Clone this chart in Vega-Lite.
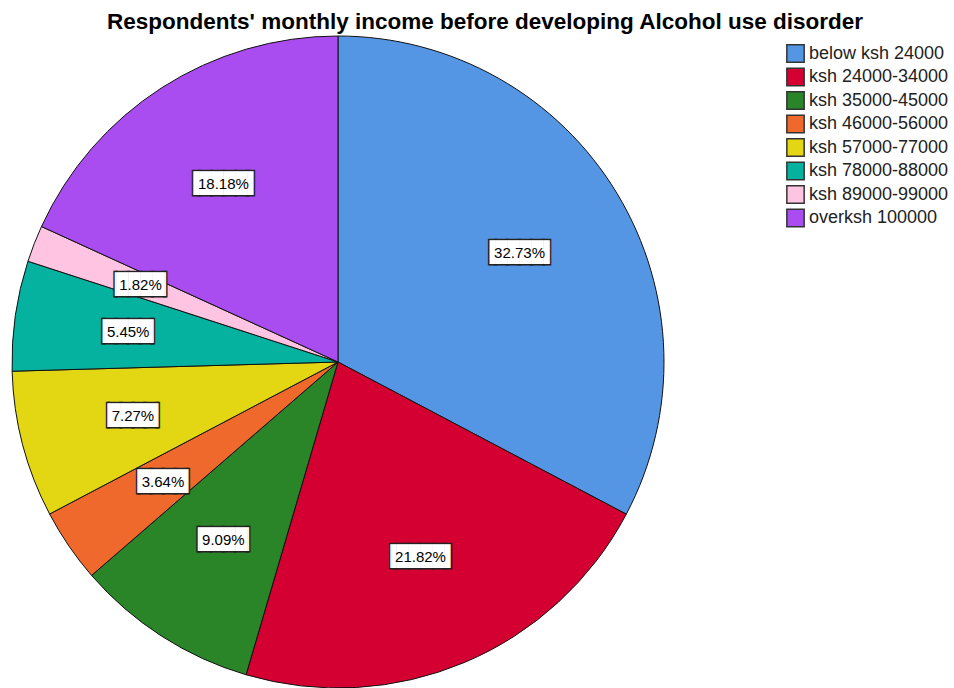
{
  "$schema": "https://vega.github.io/schema/vega-lite/v6.json",
  "width": 676,
  "height": 652,
  "autosize": {"type": "none"},
  "padding": {"left": 0, "top": 36, "right": 278, "bottom": 0},
  "background": "white",
  "title": {
    "text": "Respondents' monthly income before developing Alcohol use disorder",
    "font": "Liberation Sans",
    "fontSize": 22.5,
    "fontWeight": "bold",
    "color": "#000000",
    "anchor": "middle",
    "dx": 147,
    "offset": 1
  },
  "data": {
    "values": [
      {"income": "below ksh 24000", "percent": 32.73, "label": "32.73%"},
      {"income": "ksh 24000-34000", "percent": 21.82, "label": "21.82%"},
      {"income": "ksh 35000-45000", "percent": 9.09, "label": "9.09%"},
      {"income": "ksh 46000-56000", "percent": 3.64, "label": "3.64%"},
      {"income": "ksh 57000-77000", "percent": 7.27, "label": "7.27%"},
      {"income": "ksh 78000-88000", "percent": 5.45, "label": "5.45%"},
      {"income": "ksh 89000-99000", "percent": 1.82, "label": "1.82%"},
      {"income": "overksh 100000", "percent": 18.18, "label": "18.18%"}
    ]
  },
  "encoding": {
    "theta": {"field": "percent", "type": "quantitative", "stack": true},
    "order": {"field": "income", "type": "ordinal"},
    "detail": {"field": "income", "type": "nominal"},
    "color": {
      "field": "income",
      "type": "nominal",
      "scale": {
        "domain": ["below ksh 24000", "ksh 24000-34000", "ksh 35000-45000", "ksh 46000-56000", "ksh 57000-77000", "ksh 78000-88000", "ksh 89000-99000", "overksh 100000"],
        "range": ["#5496E4", "#D50032", "#2A8428", "#F0692C", "#E3D714", "#05B2A0", "#FFC4E1", "#A94CF0"]
      },
      "legend": {
        "title": null,
        "orient": "none",
        "legendX": 786,
        "legendY": 8,
        "padding": 0,
        "symbolType": "square",
        "symbolSize": 300,
        "symbolStrokeColor": "#333333",
        "symbolStrokeWidth": 1.5,
        "labelFont": "Liberation Sans",
        "labelFontSize": 18,
        "labelColor": "#222222",
        "labelOffset": 4,
        "rowPadding": -1.5
      }
    }
  },
  "layer": [
    {"mark": {"type": "arc", "stroke": "#111111", "strokeWidth": 1}},
    {
      "mark": {"type": "text", "radius": 212, "font": "DejaVu Sans Mono", "fontSize": 20, "align": "center", "baseline": "middle", "stroke": "#222222", "strokeWidth": 3},
      "encoding": {
        "color": {"value": "white"},
        "text": {"condition": {"test": "datum.percent < 10", "value": "▕████▏"}, "value": "▐████▌"}
      }
    },
    {
      "mark": {"type": "text", "radius": 212, "font": "DejaVu Sans Mono", "fontSize": 20, "align": "center", "baseline": "middle"},
      "encoding": {
        "color": {"value": "white"},
        "text": {"condition": {"test": "datum.percent < 10", "value": "▕████▏"}, "value": "▐████▌"}
      }
    },
    {
      "mark": {"type": "text", "radius": 212, "font": "Liberation Sans", "fontSize": 15, "align": "center", "baseline": "middle"},
      "encoding": {
        "color": {"value": "black"},
        "text": {"field": "label", "type": "nominal"}
      }
    }
  ]
}
